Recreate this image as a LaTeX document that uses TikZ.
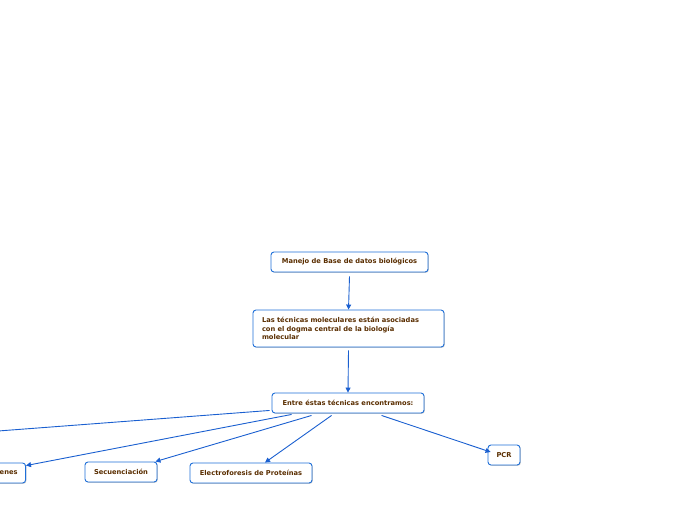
\documentclass[tikz,border=0pt]{standalone}
\usepackage{fontspec}
\setmainfont{DejaVu Sans}
\usetikzlibrary{arrows.meta,calc,shadows}
\definecolor{bordc}{HTML}{1F6FD8}
\definecolor{linec}{HTML}{1A5FD0}
\definecolor{txtc}{HTML}{5A2E00}
\tikzset{
  topic/.style={draw=bordc, line width=0.9pt, rounded corners=3pt, fill=white,
    text=txtc, font=\fontsize{6.7}{8.5}\selectfont\bfseries, inner xsep=6pt,
    inner ysep=0pt, minimum height=20pt,
    drop shadow={shadow xshift=0.8pt, shadow yshift=-0.8pt, fill=black!35, opacity=0.6}},
  conn/.style={draw=linec, line width=0.9pt, -{Triangle[length=5pt,width=5pt]}},
  connfree/.style={draw=linec, line width=0.9pt}
}
\begin{document}
\begin{tikzpicture}[x=1pt,y=-1pt]
\useasboundingbox (0,0) rectangle (696,520);
\node[topic, minimum width=157pt] (manejo) at (349.5,262) {Manejo de Base de datos biológicos};
\node[topic, minimum width=191pt, minimum height=37pt, text width=173pt, inner xsep=9pt, align=left] (tecnicas) at (348.5,328.5) {Las técnicas moleculares están asociadas\\con el dogma central de la biología\\molecular};
\node[topic, minimum width=152pt] (entre) at (348,403) {Entre éstas técnicas encontramos:};
\node[topic, anchor=east, inner xsep=8pt] (genes) at (26,473) {Clonación de genes};
\node[topic, minimum width=72pt] (secu) at (121,472) {Secuenciación};
\node[topic, minimum width=122pt] (electro) at (251,473) {Electroforesis de Proteínas};
\node[topic, minimum width=32pt] (pcr) at (504,455) {PCR};
\coordinate (farleft) at (-2,431);
\draw[conn] ($(manejo.south)+(0,4)$) -- (tecnicas.north);
\draw[conn] ($(tecnicas.south)+(0,3)$) -- (entre.north);
\draw[connfree] ($(entre.south west)+(-2,-3)$) -- (farleft);
\draw[conn] ($(entre.south west)+(20,1)$) -- ($(genes.north east)+(0,3)$);
\draw[conn] ($(entre.south west)+(40,2)$) -- ($(secu.north east)+(-2,0)$);
\draw[conn] ($(entre.south west)+(60,2)$) -- ($(electro.north)+(14,0)$);
\draw[conn] ($(entre.south west)+(110,2)$) -- ($(pcr.west)+(3,-3)$);
\end{tikzpicture}
\end{document}
